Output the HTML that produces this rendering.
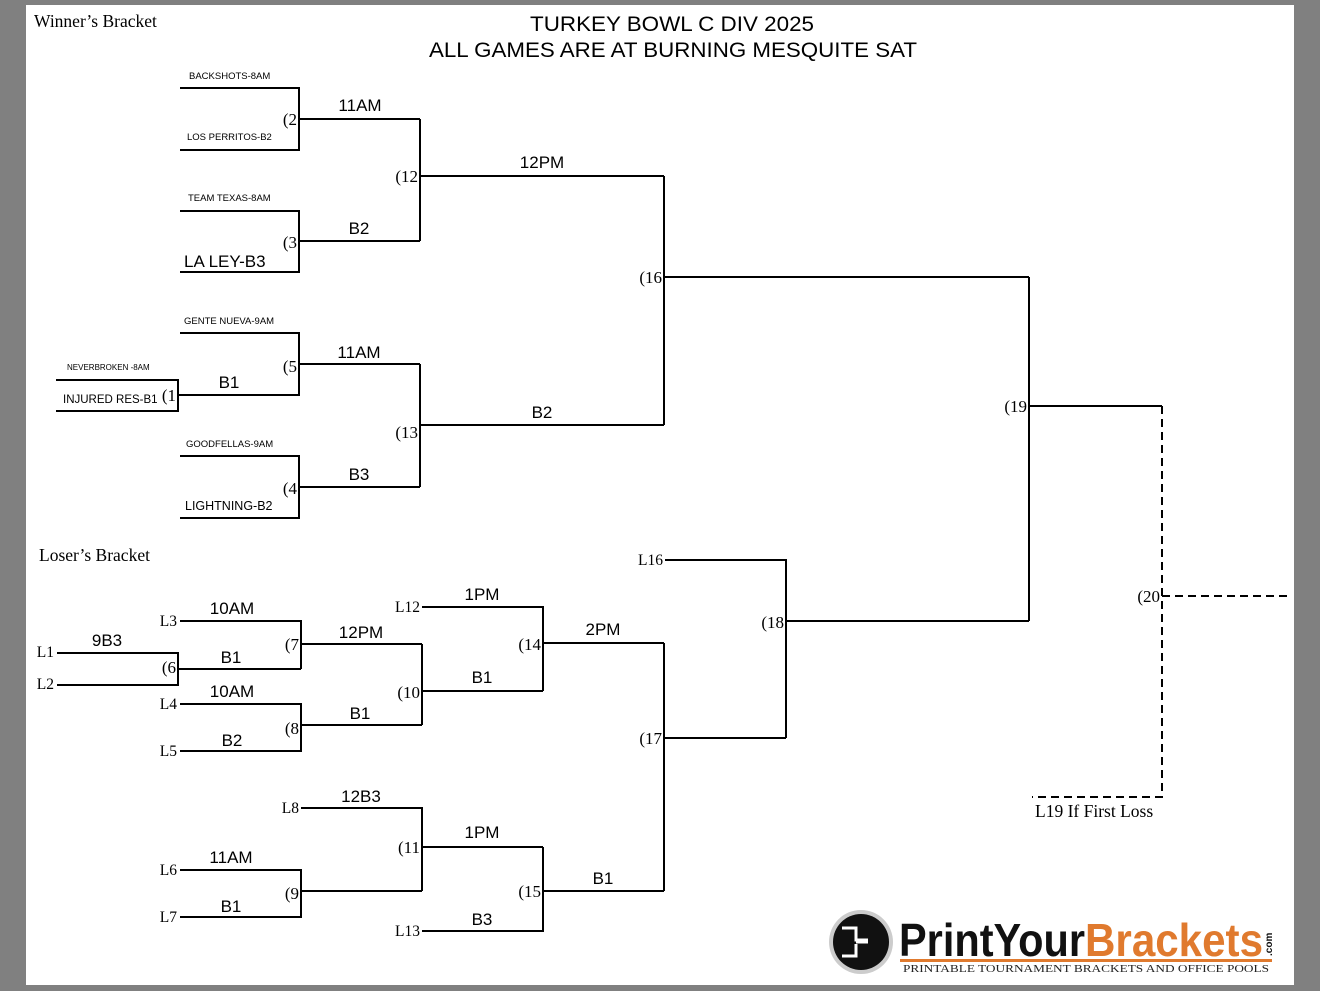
<!DOCTYPE html>
<html><head><meta charset="utf-8"><style>
html,body{margin:0;padding:0;background:#808080;}
svg{display:block;}
.s{font-family:"Liberation Sans",sans-serif;fill:#000;}
.r{font-family:"Liberation Serif",serif;fill:#000;}
</style></head><body>
<svg width="1320" height="991" viewBox="0 0 1320 991" xmlns="http://www.w3.org/2000/svg">
<rect x="0" y="0" width="1320" height="991" fill="#808080"/>
<rect x="26" y="5" width="1268" height="980" fill="#fff"/>
<text class="s" x="672" y="31" font-size="21" text-anchor="middle" textLength="284" lengthAdjust="spacingAndGlyphs">TURKEY BOWL C DIV 2025</text>
<text class="s" x="673" y="57" font-size="21" text-anchor="middle" textLength="488" lengthAdjust="spacingAndGlyphs">ALL GAMES ARE AT BURNING MESQUITE SAT</text>
<text class="r" x="34" y="27" font-size="17.5">Winner’s Bracket</text>
<text class="r" x="39" y="561" font-size="17.5">Loser’s Bracket</text>
<g stroke="#000" stroke-width="2" fill="none">
<path d="M180 88H299V150H180M299 119H420"/>
<path d="M180 211H299V272H180M299 241H420"/>
<path d="M420 119V241M420 176H664"/>
<path d="M180 333H299V395H178M299 364H420"/>
<path d="M56 380H178V411H56"/>
<path d="M180 456H299V518H180M299 487H420"/>
<path d="M420 364V487M420 425H664"/>
<path d="M664 176V425M664 277H1029"/>
<path d="M1029 277V621M1029 406H1162"/>
<path d="M57 653H178V685H57M178 669H301"/>
<path d="M180 621H301V669M301 644H422"/>
<path d="M180 704H301V751H180M301 725H422"/>
<path d="M422 644V725M422 691H543"/>
<path d="M422 607H543V691M543 643H664"/>
<path d="M180 870H301V917H180M301 891H422"/>
<path d="M301 808H422V891M422 847H543"/>
<path d="M422 931H543V847M543 891H664"/>
<path d="M664 643V891M664 738H786"/>
<path d="M665 560H786V738M786 621H1029"/>
</g>
<g stroke="#000" stroke-width="2" fill="none" stroke-dasharray="8,5">
<path d="M1162 406V797H1032"/>
<path d="M1162 596H1287"/>
</g>
<g class="s" font-size="9.5">
<text x="189" y="79">BACKSHOTS-8AM</text>
<text x="187" y="140">LOS PERRITOS-B2</text>
<text x="188" y="201">TEAM TEXAS-8AM</text>
<text x="184" y="324">GENTE NUEVA-9AM</text>
<text x="186" y="447">GOODFELLAS-9AM</text>
<text x="67" y="370" font-size="8">NEVERBROKEN -8AM</text>
</g>
<text class="s" x="184" y="267" font-size="17">LA LEY-B3</text>
<text class="s" x="63" y="403" font-size="11.5">INJURED RES-B1</text>
<text class="s" x="185" y="510" font-size="12.5">LIGHTNING-B2</text>
<g class="s" font-size="17" text-anchor="middle">
<text x="360" y="111">11AM</text>
<text x="359" y="234">B2</text>
<text x="542" y="168">12PM</text>
<text x="359" y="358">11AM</text>
<text x="229" y="388">B1</text>
<text x="359" y="480">B3</text>
<text x="542" y="418">B2</text>
<text x="107" y="646">9B3</text>
<text x="232" y="614">10AM</text>
<text x="231" y="663">B1</text>
<text x="361" y="638">12PM</text>
<text x="232" y="697">10AM</text>
<text x="232" y="746">B2</text>
<text x="360" y="719">B1</text>
<text x="482" y="683">B1</text>
<text x="482" y="600">1PM</text>
<text x="603" y="635">2PM</text>
<text x="231" y="863">11AM</text>
<text x="231" y="912">B1</text>
<text x="361" y="802">12B3</text>
<text x="482" y="838">1PM</text>
<text x="482" y="925">B3</text>
<text x="603" y="884">B1</text>
</g>
<g class="r" font-size="17" text-anchor="end">
<text x="297" y="125">(2</text>
<text x="297" y="248">(3</text>
<text x="418" y="182">(12</text>
<text x="297" y="372">(5</text>
<text x="176" y="401">(1</text>
<text x="297" y="494">(4</text>
<text x="418" y="438">(13</text>
<text x="662" y="283">(16</text>
<text x="1027" y="412">(19</text>
<text x="1160" y="602">(20</text>
<text x="176" y="673">(6</text>
<text x="299" y="650">(7</text>
<text x="299" y="734">(8</text>
<text x="420" y="698">(10</text>
<text x="541" y="650">(14</text>
<text x="299" y="899">(9</text>
<text x="420" y="853">(11</text>
<text x="541" y="897">(15</text>
<text x="662" y="744">(17</text>
<text x="784" y="628">(18</text>
</g>
<g class="r" font-size="15.5" text-anchor="end">
<text x="54" y="657">L1</text>
<text x="54" y="689">L2</text>
<text x="177" y="626">L3</text>
<text x="177" y="709">L4</text>
<text x="177" y="756">L5</text>
<text x="177" y="875">L6</text>
<text x="177" y="922">L7</text>
<text x="299" y="813">L8</text>
<text x="420" y="612">L12</text>
<text x="420" y="936">L13</text>
<text x="663" y="565">L16</text>
</g>
<text class="r" x="1035" y="817" font-size="17.5">L19 If First Loss</text>
<circle cx="861" cy="942" r="32" fill="#ccc"/>
<circle cx="861" cy="942" r="28" fill="#111"/>
<path d="M842 928h14v12h12M842 956h14v-12M856 942h12" stroke="#fff" stroke-width="3" fill="none"/>
<text x="899" y="956" font-family="Liberation Sans,sans-serif" font-weight="bold" font-size="46" fill="#111" textLength="186" lengthAdjust="spacingAndGlyphs">PrintYour</text>
<text x="1085" y="956" font-family="Liberation Sans,sans-serif" font-weight="bold" font-size="46" fill="#e07a2e" textLength="178" lengthAdjust="spacingAndGlyphs">Brackets</text>
<text x="1272" y="956" font-family="Liberation Sans,sans-serif" font-weight="bold" font-size="10" fill="#111" transform="rotate(-90 1272 956)">.com</text>
<rect x="900" y="959" width="372" height="3" fill="#e07a2e"/>
<text x="903" y="972" font-family="Liberation Serif,serif" font-size="11" fill="#222" textLength="366" lengthAdjust="spacingAndGlyphs">PRINTABLE TOURNAMENT BRACKETS AND OFFICE POOLS</text>
</svg>
</body></html>
